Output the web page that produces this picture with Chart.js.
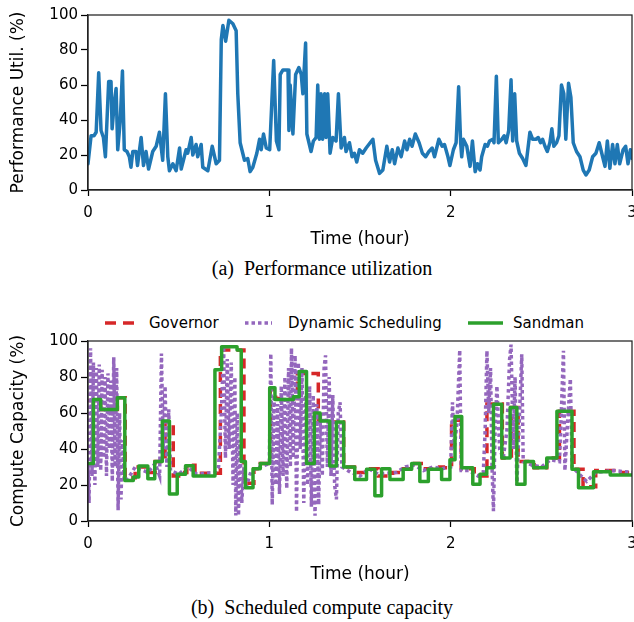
<!DOCTYPE html>
<html>
<head>
<meta charset="utf-8">
<script src="https://cdn.jsdelivr.net/npm/chart.js@4.4.1/dist/chart.umd.min.js"></script>
<style>
  body { margin: 0; width: 634px; height: 622px; background: #fff; position: relative; overflow: hidden; font-family: "DejaVu Sans", sans-serif; }
  #boxA { position: absolute; left: 0; top: 0; width: 634px; height: 255px; }
  #boxB { position: absolute; left: 0; top: 300px; width: 634px; height: 290px; }
  .caption { position: absolute; left: 5px; width: 634px; text-align: center; font-family: "Liberation Serif", "DejaVu Serif", serif; font-size: 20px; line-height: 22px; color: #000; }
  .item { position: absolute; top: 313px; font-size: 15px; line-height: 20px; color: #000; white-space: nowrap; }
  .item svg { position: absolute; top: 0; }
</style>
</head>
<body>
<div id="boxA"><canvas id="chartA"></canvas></div>
<div class="caption" style="top:257px">(a)&nbsp; Performance utilization</div>

<div class="item" style="left:105px"><svg width="32" height="20"><line x1="0" y1="10" x2="30" y2="10" stroke="#d62728" stroke-width="3.5" stroke-dasharray="11 7"/></svg><span style="position:absolute;left:44px">Governor</span></div>
<div class="item" style="left:245px"><svg width="30" height="20"><line x1="0" y1="10" x2="27" y2="10" stroke="#9467bd" stroke-width="3.5" stroke-dasharray="3.5 3"/></svg><span style="position:absolute;left:43px">Dynamic Scheduling</span></div>
<div class="item" style="left:468px"><svg width="36" height="20"><line x1="0" y1="10" x2="35" y2="10" stroke="#2ca02c" stroke-width="3.5"/></svg><span style="position:absolute;left:45px">Sandman</span></div>

<div id="boxB"><canvas id="chartB"></canvas></div>
<div class="caption" style="top:596px">(b)&nbsp; Scheduled compute capacity</div>

<script>
// [hour, %] pairs
const utilization = [
  [0, 15], [0.017, 31], [0.033, 31], [0.045, 33], [0.059, 67], [0.072, 34], [0.085, 30], [0.096, 19],
  [0.114, 62], [0.127, 62], [0.133, 35], [0.145, 50], [0.155, 58], [0.164, 23], [0.178, 40], [0.19, 68],
  [0.2, 23], [0.215, 22], [0.228, 19], [0.237, 13], [0.247, 22], [0.265, 22], [0.273, 14], [0.293, 30],
  [0.306, 14], [0.32, 22], [0.334, 12], [0.357, 22], [0.376, 25], [0.394, 33], [0.412, 17], [0.427, 55],
  [0.44, 19], [0.449, 11], [0.468, 15], [0.486, 11], [0.505, 24], [0.514, 12], [0.541, 23], [0.55, 21],
  [0.569, 30], [0.578, 20], [0.596, 26], [0.605, 19], [0.624, 26], [0.633, 13], [0.661, 11], [0.685, 25],
  [0.707, 15], [0.725, 17], [0.735, 86], [0.744, 94], [0.759, 85], [0.777, 97], [0.799, 95], [0.817, 91],
  [0.826, 55], [0.839, 27], [0.863, 17], [0.881, 18], [0.894, 10.5], [0.909, 13], [0.931, 21], [0.946, 29],
  [0.955, 23], [0.968, 32], [0.983, 24], [1.002, 23], [1.024, 74], [1.039, 28], [1.053, 23], [1.06, 66],
  [1.075, 68.6], [1.103, 68.6], [1.108, 34], [1.115, 60], [1.13, 32], [1.145, 66], [1.163, 70], [1.176, 66],
  [1.185, 55], [1.2, 84], [1.207, 32], [1.23, 22], [1.243, 28], [1.258, 30], [1.267, 60], [1.276, 29],
  [1.285, 55], [1.294, 29], [1.305, 55], [1.313, 30], [1.322, 55], [1.335, 21], [1.35, 30], [1.368, 28],
  [1.381, 55], [1.396, 24], [1.414, 30], [1.423, 22], [1.442, 27], [1.456, 19], [1.469, 21], [1.482, 16],
  [1.497, 23], [1.515, 21], [1.534, 24], [1.556, 27], [1.571, 29], [1.586, 17], [1.608, 9.5], [1.626, 11.4],
  [1.648, 25], [1.663, 16], [1.678, 23], [1.691, 15], [1.709, 24], [1.727, 19], [1.746, 28], [1.759, 23],
  [1.774, 29], [1.787, 25], [1.805, 32], [1.826, 27], [1.844, 21], [1.862, 19], [1.88, 22], [1.898, 24],
  [1.911, 19], [1.935, 29], [1.953, 25], [1.966, 26], [1.985, 19], [1.996, 14], [2.015, 23], [2.03, 27],
  [2.044, 59], [2.055, 27], [2.061, 19], [2.07, 29], [2.089, 25], [2.107, 13.5], [2.12, 28], [2.135, 10.5],
  [2.148, 15], [2.162, 11.4], [2.171, 19], [2.19, 26], [2.203, 25], [2.214, 28], [2.232, 29], [2.239, 27],
  [2.252, 65], [2.263, 27], [2.282, 29], [2.295, 31], [2.306, 27], [2.32, 34], [2.333, 63], [2.342, 28],
  [2.353, 55], [2.364, 28], [2.379, 21], [2.397, 18], [2.415, 14], [2.437, 33], [2.452, 29], [2.47, 29],
  [2.483, 30], [2.496, 27], [2.507, 29], [2.52, 25], [2.533, 22], [2.547, 27], [2.558, 35], [2.569, 25],
  [2.584, 27], [2.597, 31], [2.611, 60], [2.624, 55], [2.635, 29], [2.65, 61], [2.663, 53], [2.676, 27],
  [2.694, 22], [2.713, 19], [2.731, 11.4], [2.746, 8.6], [2.764, 11.4], [2.783, 19], [2.801, 21], [2.819, 27],
  [2.838, 19], [2.851, 13.5], [2.864, 28], [2.878, 12.4], [2.893, 26], [2.906, 15], [2.919, 26], [2.932, 15],
  [2.951, 23], [2.965, 25], [2.978, 15], [2.991, 23], [3.0, 18]
];

// step series: value holds from this hour to the next one
const governor = [
  [0, 67], [0.07, 62], [0.162, 68.5], [0.205, 24], [0.26, 30], [0.33, 27], [0.37, 33], [0.425, 55],
  [0.47, 25], [0.5, 27], [0.545, 31], [0.59, 26.5], [0.73, 95], [0.86, 21], [0.915, 29], [0.95, 32],
  [1.005, 73], [1.035, 68], [1.155, 82], [1.27, 55], [1.41, 30], [1.47, 27], [1.54, 29], [1.6, 25],
  [1.68, 27], [1.74, 29], [1.79, 32], [1.85, 29], [1.9, 30], [1.96, 29.6], [2.005, 56], [2.058, 29],
  [2.13, 25], [2.2, 65], [2.285, 35], [2.335, 63], [2.372, 33], [2.46, 29.6], [2.53, 35], [2.6, 61],
  [2.68, 28.7], [2.73, 19], [2.8, 28], [2.9, 27], [3.0, 26]
];

const dynamicScheduling = [
  [0, 30], [0.006, 10], [0.014, 96], [0.022, 25], [0.03, 88], [0.038, 20], [0.046, 85], [0.054, 30],
  [0.062, 87], [0.07, 28], [0.078, 84], [0.086, 35], [0.094, 80], [0.102, 25], [0.11, 82], [0.118, 40],
  [0.126, 78], [0.134, 22], [0.142, 91], [0.15, 30], [0.158, 85], [0.166, 6], [0.174, 60], [0.182, 12],
  [0.19, 45], [0.2, 22], [0.23, 25], [0.26, 30], [0.33, 27], [0.37, 32], [0.395, 25], [0.405, 93],
  [0.415, 40], [0.425, 75], [0.435, 30], [0.445, 62], [0.455, 28], [0.5, 26], [0.55, 30], [0.6, 26],
  [0.7, 27], [0.72, 30], [0.735, 60], [0.748, 97], [0.758, 35], [0.768, 90], [0.778, 40], [0.79, 88],
  [0.8, 20], [0.81, 80], [0.815, 3], [0.823, 60], [0.83, 3], [0.838, 45], [0.848, 10], [0.86, 30],
  [0.87, 18], [0.9, 28], [0.95, 30], [1.0, 32], [1.008, 93], [1.016, 9], [1.026, 70], [1.036, 20],
  [1.046, 65], [1.056, 15], [1.066, 75], [1.076, 25], [1.086, 80], [1.096, 18], [1.106, 85], [1.116, 30],
  [1.122, 96], [1.132, 35], [1.142, 92], [1.15, 5], [1.16, 88], [1.17, 40], [1.18, 85], [1.19, 10],
  [1.2, 70], [1.212, 20], [1.222, 75], [1.232, 8], [1.242, 70], [1.252, 3], [1.262, 65], [1.272, 9],
  [1.282, 60], [1.292, 25], [1.302, 85], [1.31, 92], [1.32, 30], [1.33, 80], [1.34, 25], [1.35, 70],
  [1.36, 20], [1.37, 12], [1.38, 60], [1.39, 66], [1.4, 30], [1.45, 27], [1.5, 25], [1.55, 29],
  [1.6, 26], [1.7, 27], [1.75, 30], [1.8, 31], [1.85, 28], [1.9, 30], [1.95, 29], [2.0, 30],
  [2.01, 66], [2.02, 40], [2.035, 55], [2.05, 95], [2.058, 28], [2.1, 28], [2.15, 25], [2.18, 27],
  [2.19, 50], [2.2, 94.6], [2.21, 60], [2.22, 85], [2.228, 30], [2.236, 5.5], [2.245, 50], [2.255, 75],
  [2.27, 40], [2.29, 35], [2.31, 50], [2.325, 90], [2.333, 98], [2.345, 40], [2.355, 80], [2.365, 19.6],
  [2.38, 60], [2.392, 92.6], [2.4, 33], [2.45, 31], [2.5, 30], [2.55, 34], [2.6, 33], [2.61, 60],
  [2.622, 94.6], [2.63, 28], [2.645, 55], [2.66, 79], [2.67, 30], [2.7, 27], [2.75, 22], [2.8, 27],
  [2.9, 28], [3.0, 27]
];

const sandman = [
  [0, 32], [0.03, 67.5], [0.07, 62], [0.162, 68.5], [0.203, 22.5], [0.25, 24.5], [0.28, 30.5], [0.33, 23.5],
  [0.368, 33], [0.41, 55.5], [0.449, 15], [0.492, 26], [0.538, 30.7], [0.58, 25], [0.7, 84], [0.737, 96.8],
  [0.822, 95], [0.845, 33], [0.868, 18.5], [0.91, 29], [0.95, 32], [1.002, 74], [1.031, 67.5], [1.133, 69],
  [1.165, 83], [1.205, 32], [1.248, 60], [1.28, 55.5], [1.333, 30.5], [1.37, 55], [1.41, 30], [1.471, 23],
  [1.536, 28.7], [1.582, 14], [1.619, 29], [1.665, 23], [1.738, 28.7], [1.785, 32], [1.83, 22], [1.877, 28.7],
  [1.95, 23], [1.996, 34], [2.024, 58], [2.061, 29.6], [2.122, 20.4], [2.162, 26], [2.199, 29.6], [2.236, 64.8],
  [2.282, 35], [2.328, 63], [2.365, 20.4], [2.41, 33], [2.457, 29.6], [2.53, 35], [2.586, 61], [2.669, 28.7],
  [2.705, 18.5], [2.788, 27.4], [2.88, 25.5], [3.0, 25.5]
];

const hourTicks = [0, 1, 2, 3];
const percentTicks = [0, 20, 40, 60, 80, 100];

Chart.defaults.font.family = 'DejaVu Sans';
Chart.defaults.color = '#000';

const toXY = pairs => pairs.map(p => ({x: p[0], y: p[1]}));

// top/right spines
const frame = {
  id: 'frame',
  afterDatasetsDraw(chart) {
    const {ctx, chartArea: a} = chart;
    ctx.save();
    ctx.strokeStyle = '#222';
    ctx.lineWidth = 1.25;
    ctx.strokeRect(a.left, a.top, a.right - a.left, a.bottom - a.top);
    ctx.restore();
  }
};

function options(yTitle, topPad, xHeight) {
  return {
    responsive: true,
    maintainAspectRatio: false,
    animation: false,
    events: [],
    layout: {padding: {top: topPad, right: 2, left: 0, bottom: 0}},
    plugins: {legend: {display: false}, tooltip: {enabled: false}},
    elements: {point: {radius: 0}, line: {tension: 0}},
    scales: {
      x: {
        type: 'linear', min: 0, max: 3,
        afterBuildTicks: s => { s.ticks = hourTicks.map(v => ({value: v})); },
        ticks: {font: {size: 15}, padding: 8, maxRotation: 0},
        grid: {drawOnChartArea: false, tickLength: 6, color: '#000', tickWidth: 1.25},
        border: {color: '#222', width: 1.25},
        title: {display: true, text: 'Time (hour)', font: {size: 17}, padding: {top: 0, bottom: 5}},
        afterFit: s => { s.height = xHeight; s.paddingLeft = 0; s.paddingRight = 0; }
      },
      y: {
        min: 0, max: 100,
        afterBuildTicks: s => { s.ticks = percentTicks.map(v => ({value: v})); },
        ticks: {font: {size: 15}, padding: 3},
        grid: {drawOnChartArea: false, tickLength: 7, color: '#000', tickWidth: 1.25},
        border: {color: '#222', width: 1.25},
        title: {display: true, text: yTitle, font: {size: 17}, padding: {top: 8, bottom: 0}},
        afterFit: s => { s.width = 88; }
      }
    }
  };
}

new Chart(document.getElementById('chartA'), {
  type: 'line',
  data: {
    datasets: [{
      label: 'Performance Util.',
      data: toXY(utilization),
      borderColor: '#1f77b4',
      borderWidth: 3.5,
      borderJoinStyle: 'round',
      borderCapStyle: 'round'
    }]
  },
  options: options('Performance Util. (%)', 15, 65),
  plugins: [frame]
});

new Chart(document.getElementById('chartB'), {
  type: 'line',
  data: {
    datasets: [
      {label: 'Governor', data: toXY(governor), stepped: true, borderColor: '#d62728', borderWidth: 3.5, borderDash: [10, 6], order: 3},
      {label: 'Dynamic Scheduling', data: toXY(dynamicScheduling), borderColor: '#9467bd', borderWidth: 3.5, borderDash: [3.5, 3], order: 2},
      {label: 'Sandman', data: toXY(sandman), stepped: true, borderColor: '#2ca02c', borderWidth: 3.5, borderJoinStyle: 'round', order: 1}
    ]
  },
  options: options('Compute Capacity (%)', 41, 69),
  plugins: [frame]
});
</script>
</body>
</html>
